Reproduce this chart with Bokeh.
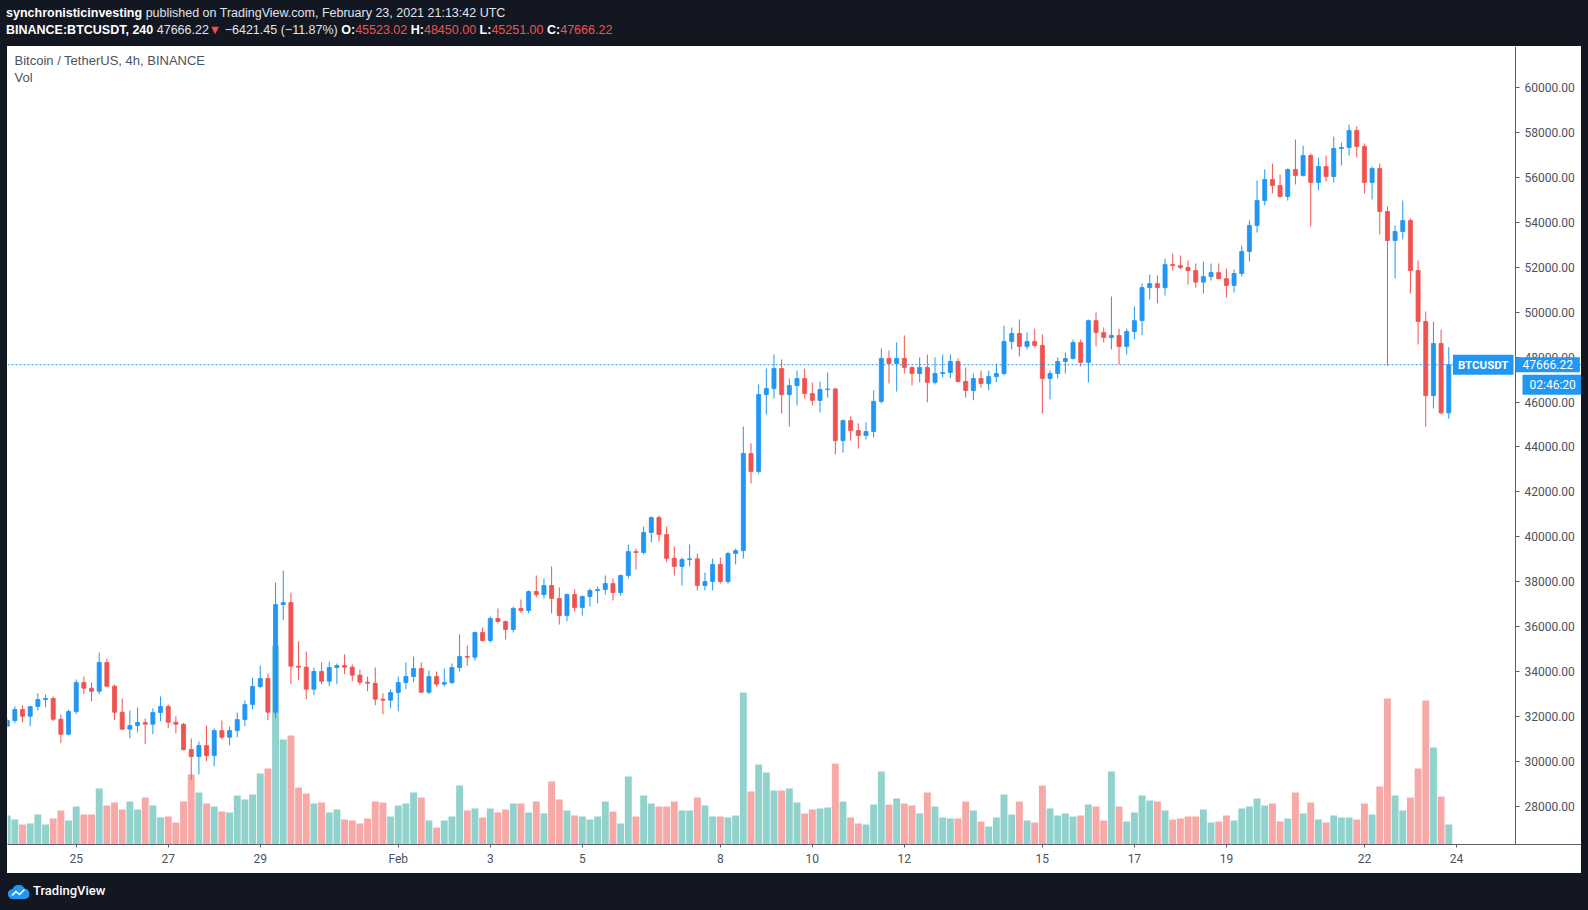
import pandas as pd
from bokeh.plotting import figure
from bokeh.models import (Range1d, FixedTicker, NumeralTickFormatter, Span, Label,
                          Div, ColumnDataSource, LinearAxis)
from bokeh.layouts import column, row
from bokeh.embed import file_html
from bokeh.resources import INLINE

# ---------------- data (BINANCE:BTCUSDT, 4h candles) ----------------
first_candle = "2021-01-23 12:00"

opens = [31560, 31815, 32305, 32005, 32440, 32750, 32795, 31875, 31205, 32215,
         33505, 33255, 33120, 34400, 33345, 32185, 31430, 31590, 31725, 31650,
         32170, 32440, 31740, 31650, 30525, 30210, 30700, 30255, 31370, 31070,
         31370, 31860, 32525, 33330, 33685, 32185, 36980, 37070, 34235, 34190,
         33210, 34000, 33565, 34175, 34265, 34190, 33835, 33520, 33475, 32765,
         32720, 33060, 33505, 33775, 34130, 33075, 33775, 33435, 33505, 34175,
         34665, 34635, 35735, 35380, 36360, 36225, 35870, 36805, 36715, 37560,
         37425, 37830, 37250, 36490, 37425, 36850, 37340, 37605, 37650, 37915,
         37515, 38275, 39340, 39300, 40190, 40855, 40100, 39040, 38680, 38985,
         39020, 37830, 38005, 38765, 38005, 39255, 39385, 43710, 42910, 46335,
         46605, 47495, 46335, 46735, 47050, 46380, 46075, 46560, 46585, 44285,
         45175, 44730, 44515, 44690, 46030, 47945, 47720, 47945, 47545, 47275,
         47545, 46880, 47275, 47315, 47810, 46920, 46515, 47050, 46830, 47135,
         47275, 48700, 49060, 48480, 48700, 48525, 47050, 47275, 47810, 47945,
         48655, 47770, 49630, 49100, 48880, 48970, 48480, 49145, 49630, 51100,
         51280, 51100, 52125, 52080, 51995, 51860, 51345, 51590, 51770, 51500,
         51195, 51730, 52710, 53870, 54980, 55915, 55650, 55160, 56365, 56095,
         56985, 55785, 56495, 56050, 57300, 57345, 58100, 57385, 55785, 56410,
         54490, 53200, 53600, 54090, 51860, 49590, 46290, 48610, 45523.02]

highs = [31905, 32440, 32485, 32450, 33030, 32975, 32885, 32080, 32305, 33640,
         33775, 33505, 34845, 34575, 33420, 32795, 32260, 32395, 31905, 32350,
         32885, 32525, 31995, 31700, 31015, 30880, 31590, 31460, 31815, 31545,
         32170, 32705, 33730, 34265, 33910, 37960, 38490, 37515, 35340, 34890,
         34175, 34400, 34440, 34355, 34755, 34310, 34085, 33775, 34175, 33030,
         33195, 33775, 34400, 34665, 34400, 34040, 34000, 34130, 34355, 35650,
         35155, 35780, 35955, 36445, 36805, 36270, 36890, 37205, 37605, 38275,
         38140, 38675, 37740, 37470, 37655, 37380, 37695, 37785, 38275, 38140,
         38320, 39655, 39475, 40455, 40910, 40945, 40455, 39565, 39075, 39655,
         39255, 38405, 39030, 39075, 39340, 39475, 44910, 44165, 46785, 47495,
         48120, 47900, 47050, 47410, 47495, 46870, 46915, 47320, 46630, 45225,
         45365, 45050, 45090, 46515, 48390, 48300, 48655, 48970, 47585, 47990,
         48120, 47990, 48120, 48120, 47945, 47545, 47275, 47405, 47405, 47720,
         49405, 49325, 49680, 49100, 49275, 49015, 47405, 47990, 48210, 48790,
         48790, 49680, 49995, 49325, 50705, 49275, 49275, 50260, 51280, 51680,
         51640, 52395, 52620, 52530, 52310, 52175, 52265, 52175, 52175, 51950,
         51910, 52975, 54090, 55875, 56365, 56630, 56140, 56410, 57700, 57430,
         57075, 56895, 56985, 57830, 57565, 58365, 58280, 57520, 56495, 56630,
         54715, 53870, 54980, 54180, 52310, 50035, 49590, 49235, 48450.00]

lows = [31505, 31695, 31740, 31560, 32260, 32410, 31785, 30805, 31160, 32095,
        32985, 32675, 32985, 33300, 31830, 31385, 31025, 31295, 30760, 31205,
        31785, 31475, 31250, 30480, 29180, 29425, 30005, 29775, 30985, 30715,
        31070, 31560, 32320, 33250, 31830, 31920, 36290, 33435, 33610, 32765,
        32945, 33435, 33345, 33435, 33875, 33565, 33390, 33120, 32495, 32095,
        32365, 32230, 33210, 33520, 33035, 32990, 33330, 33330, 33435, 34000,
        34265, 34485, 35320, 35290, 36135, 35425, 35735, 36595, 36595, 37295,
        37250, 36580, 36090, 36230, 36675, 36490, 36890, 37030, 37425, 37160,
        37380, 38140, 38540, 39210, 39745, 39795, 38860, 38275, 37830, 38675,
        37605, 37605, 37605, 37915, 37915, 38765, 39030, 42375, 42820, 45445,
        46155, 45495, 44910, 45850, 46155, 45850, 45535, 46200, 43665, 43750,
        44285, 43930, 44335, 44425, 45940, 46830, 46470, 47275, 46740, 46880,
        45990, 46790, 47100, 47060, 46870, 46200, 46080, 46650, 46525, 46880,
        47185, 48345, 48030, 48345, 48435, 45495, 46120, 47050, 47275, 47900,
        47585, 46880, 48480, 48655, 48345, 47675, 48120, 48795, 48975, 50570,
        50400, 50750, 51860, 51910, 51235, 51100, 50840, 51415, 51465, 50660,
        50880, 51595, 52265, 53555, 54760, 55295, 55115, 54980, 55695, 56045,
        53825, 55425, 55830, 55785, 56540, 56985, 56895, 55295, 55025, 53465,
        47630, 51505, 53245, 50840, 48570, 44900, 45715, 45450, 45251.00]

closes = [31815, 32305, 32005, 32440, 32750, 32795, 31875, 31205, 32215, 33505,
          33255, 33120, 34400, 33345, 32185, 31430, 31590, 31725, 31650, 32170,
          32440, 31740, 31650, 30525, 30210, 30700, 30255, 31370, 31070, 31370,
          31860, 32525, 33330, 33685, 32185, 36980, 37070, 34235, 34190, 33210,
          34000, 33565, 34175, 34265, 34190, 33835, 33520, 33475, 32765, 32720,
          33060, 33505, 33775, 34130, 33075, 33775, 33435, 33505, 34175, 34665,
          34635, 35735, 35380, 36360, 36225, 35870, 36805, 36715, 37560, 37425,
          37830, 37250, 36490, 37425, 36850, 37340, 37605, 37650, 37915, 37515,
          38275, 39340, 39300, 40190, 40855, 40100, 39040, 38680, 38985, 39020,
          37830, 38005, 38765, 38005, 39255, 39385, 43710, 42910, 46335, 46605,
          47495, 46335, 46735, 47050, 46380, 46075, 46560, 46585, 44285, 45175,
          44730, 44515, 44690, 46030, 47945, 47720, 47945, 47545, 47275, 47545,
          46880, 47275, 47315, 47810, 46920, 46515, 47050, 46830, 47135, 47275,
          48700, 49060, 48480, 48700, 48525, 47050, 47275, 47810, 47945, 48655,
          47770, 49630, 49100, 48880, 48970, 48480, 49145, 49630, 51100, 51280,
          51100, 52125, 52080, 51995, 51860, 51345, 51590, 51770, 51500, 51195,
          51730, 52710, 53870, 54980, 55915, 55650, 55160, 56365, 56095, 56985,
          55785, 56495, 56050, 57300, 57345, 58100, 57385, 55785, 56410, 54490,
          53200, 53600, 54090, 51860, 49590, 46290, 48610, 45523.02, 47666.22]

volumes = [14500, 12500, 10000, 10500, 15000, 10000, 13000, 17000, 12000, 19000,
           15000, 15000, 28000, 19500, 21000, 17500, 21500, 17500, 23500, 19500,
           13500, 14000, 11000, 21500, 35000, 26000, 20500, 19000, 16500, 16000,
           24500, 22500, 25000, 35500, 38000, 99500, 52500, 54500, 28500, 25500,
           20500, 21000, 16000, 17500, 12500, 12000, 10500, 13000, 21500, 21000,
           14000, 19500, 20500, 26000, 23500, 12000, 8500, 12000, 14000, 29500,
           17000, 18000, 13500, 18000, 16000, 17500, 20500, 20500, 16000, 21500,
           15500, 31500, 22500, 17000, 14500, 14000, 12500, 14000, 21500, 16500,
           10500, 34000, 14000, 24500, 20500, 19000, 19000, 21500, 17000, 17000,
           23500, 19500, 14000, 14000, 13500, 14500, 76000, 26500, 40000, 36000,
           27000, 27000, 28000, 21000, 15500, 17500, 18000, 18500, 40500, 21500,
           13500, 10500, 10000, 20000, 36500, 20000, 23000, 20500, 19500, 15500,
           26000, 19000, 13500, 13000, 13000, 21500, 17000, 11500, 9000, 13500,
           25000, 15000, 21500, 12000, 11000, 29500, 18000, 14500, 15500, 14000,
           14500, 20000, 19000, 12000, 36500, 19000, 11500, 16000, 24500, 22000,
           21500, 17000, 12500, 13000, 14000, 14000, 17500, 11000, 11500, 14500,
           12000, 18000, 19000, 23000, 19500, 20500, 11500, 13000, 26000, 15500,
           21000, 12500, 11000, 14500, 13500, 13500, 12500, 20500, 15000, 29000,
           73000, 24500, 17000, 23500, 38000, 72000, 48500, 24000, 10000]

tick_dates = ["2021-01-25", "2021-01-27", "2021-01-29", "2021-02-01", "2021-02-03",
              "2021-02-05", "2021-02-08", "2021-02-10", "2021-02-12", "2021-02-15",
              "2021-02-17", "2021-02-19", "2021-02-22", "2021-02-24"]
tick_labels = ["25", "27", "29", "Feb", "3", "5", "8", "10", "12", "15", "17", "19", "22", "24"]
price_ticks = [28000, 30000, 32000, 34000, 36000, 38000, 40000, 42000, 44000,
               46000, 48000, 50000, 52000, 54000, 56000, 58000, 60000]

symbol = "BTCUSDT"
last_price = 47666.22
countdown = "02:46:20"
header_line1 = ("synchronisticinvesting", "published on TradingView.com, February 23, 2021 21:13:42 UTC")
header_symbol = "BINANCE:BTCUSDT, 240"
header_change = "\u22126421.45 (\u221211.87%)"
header_ohlc = [("O:", "45523.02"), ("H:", "48450.00"), ("L:", "45251.00"), ("C:", "47666.22")]

# ---------------- styling ----------------
UP, DOWN = "#2196f3", "#ef5350"
VOL_UP, VOL_DOWN = "#92d2cc", "#f7a9a7"
DARK = "#131722"
AXIS_TXT = "#4c525e"
AXIS_LINE = "#5d606b"
SANS = "'Liberation Sans', Arial, sans-serif"

times = pd.date_range(first_candle, periods=len(closes), freq="4h")
idx = list(range(len(closes)))
tick_pos = [int((pd.Timestamp(d) - times[0]) / pd.Timedelta(hours=4)) for d in tick_dates]

is_up = [c >= o for o, c in zip(opens, closes)]
src = ColumnDataSource(dict(
    x=idx, open=opens, high=highs, low=lows, close=closes, vol=volumes,
    top=[max(o, c) for o, c in zip(opens, closes)],
    bottom=[min(o, c) for o, c in zip(opens, closes)],
    color=[UP if u else DOWN for u in is_up],
    vcolor=[VOL_UP if u else VOL_DOWN for u in is_up],
))

# the plotting frame spans the whole white area; the price scale sits at its right end
scale_at = 196.7
p = figure(width=1574, height=827, output_backend="svg", toolbar_location=None,
           x_range=Range1d(0.04, 205.31), y_range=Range1d(26291, 61842),
           y_axis_location=None, min_border_left=0, min_border_right=0,
           min_border_top=0, min_border_bottom=29,
           background_fill_color="white", border_fill_color="white",
           outline_line_color=None)
p.extra_y_ranges = {"vol": Range1d(0, 399000)}
p.grid.visible = False

p.vbar(x="x", top="vol", bottom=0, width=0.9, fill_color="vcolor", line_color=None,
       y_range_name="vol", source=src)
p.segment(x0="x", y0="low", x1="x", y1="high", line_color="color", line_width=1, source=src)
p.vbar(x="x", top="top", bottom="bottom", width=0.53, fill_color="color",
       line_color="color", line_width=0.8, source=src)

p.add_layout(Span(location=last_price, dimension="width", line_color=UP,
                  line_dash="2 2", line_width=1))

# axes
yax = LinearAxis(fixed_location=scale_at, ticker=FixedTicker(ticks=price_ticks),
                 formatter=NumeralTickFormatter(format="0.00"))
p.add_layout(yax, "right")
xax = p.xaxis[0]
xax.ticker = FixedTicker(ticks=tick_pos)
xax.major_label_overrides = {pos: lab for pos, lab in zip(tick_pos, tick_labels)}
for ax in (xax, yax):
    ax.axis_line_color = AXIS_LINE
    ax.major_tick_line_color = AXIS_LINE
    ax.minor_tick_line_color = None
    ax.major_tick_out = 4
    ax.major_tick_in = 0
    ax.major_label_text_color = AXIS_TXT
    ax.major_label_text_font = "Roboto"
    ax.major_label_text_font_size = "12px"
yax.major_label_standoff = 5
xax.major_tick_out = 3
xax.major_label_standoff = 4

# legend texts in the pane
p.add_layout(Label(x=7, y=784, x_units="screen", y_units="screen",
                   text="Bitcoin / TetherUS, 4h, BINANCE", text_font=SANS,
                   text_font_size="13px", text_color="#4c525e", text_baseline="middle"))
p.add_layout(Label(x=7, y=767, x_units="screen", y_units="screen",
                   text="Vol", text_font=SANS, text_font_size="13px",
                   text_color="#4c525e", text_baseline="middle"))

# price line labels (anchor = outer edge of the blue box)
p.add_layout(Label(x=1506, y=last_price, x_units="screen", text=symbol,
                   text_align="right", text_baseline="middle", text_color="white",
                   text_font="Roboto", text_font_size="11.5px", text_font_style="bold",
                   background_fill_color=UP,
                   padding=dict(left=5, right=5, top=3, bottom=3)))
p.add_layout(Label(x=1508, y=last_price, x_units="screen", text=f"{last_price:.2f}",
                   text_align="left", text_baseline="middle", text_color="white",
                   text_font="Roboto", text_font_size="12px",
                   background_fill_color=UP,
                   padding=dict(left=7, right=7, top=3, bottom=3)))
p.add_layout(Label(x=1515, y=last_price, y_offset=-20, x_units="screen", text=countdown,
                   text_align="left", text_baseline="middle", text_color="white",
                   text_font="Roboto", text_font_size="12px",
                   background_fill_color=UP,
                   padding=dict(left=7, right=7, top=3, bottom=3)))

# header and footer
red = "#ef5350"
ohlc_html = " ".join(f"<b style='color:#ffffff'>{k}</b><span style='color:{red}'>{v}</span>"
                     for k, v in header_ohlc)
header_html = (
    "<div style='padding-top:5px;margin-left:6px;line-height:17px;white-space:nowrap'>"
    f"<b style='color:#ffffff'>{header_line1[0]}</b> {header_line1[1]}<br>"
    f"<b style='color:#ffffff'>{header_symbol}</b> {last_price:.2f}"
    f"<span style='color:{red}'>\u25bc</span> {header_change} {ohlc_html}"
    "</div>"
)
header = Div(text=header_html, width=1588, height=46, margin=0,
             styles={"background-color": DARK, "color": "#e0e3eb",
                     "font-family": SANS, "font-size": "12.5px"})

logo_svg = ("<svg width='22' height='14' viewBox='0 0 22 14'>"
            "<path d='M5 14 A5 5 0 0 1 4.5 4 A6.5 6.5 0 0 1 16.5 3.5 A5.3 5.3 0 0 1 17 14 Z' fill='#2196f3'/>"
            "<polyline points='4,10.5 8,6.5 11.5,9.5 16.5,4.5' stroke='white' stroke-width='1.6' fill='none'/>"
            "</svg>")
footer_html = ("<div style='display:flex;align-items:center;height:37px;padding-left:8px'>"
               f"{logo_svg}<span style='margin-left:3px'>TradingView</span></div>")
footer = Div(text=footer_html, width=1588, height=37, margin=0,
             styles={"background-color": DARK, "color": "#ffffff",
                     "font-family": "Roboto, sans-serif", "font-size": "13px",
                     "font-weight": "500"})

side_l = Div(text="", width=7, height=827, margin=0, styles={"background-color": DARK})
side_r = Div(text="", width=7, height=827, margin=0, styles={"background-color": DARK})

layout = column(header, row(side_l, p, side_r, spacing=0), footer, spacing=0)

open("out.html", "w").write(file_html(layout, INLINE))
